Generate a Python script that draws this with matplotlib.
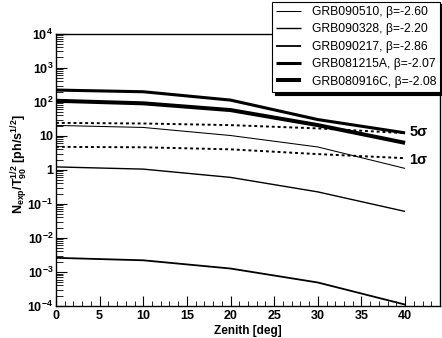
import numpy as np
import matplotlib
matplotlib.use('Agg')
import matplotlib.pyplot as plt
from matplotlib.ticker import FixedLocator, LogLocator, MultipleLocator, FuncFormatter

plt.rcParams['font.family'] = 'Liberation Sans'
plt.rcParams['mathtext.fontset'] = 'custom'
plt.rcParams['mathtext.rm'] = 'Liberation Sans'
plt.rcParams['mathtext.bf'] = 'Liberation Sans:bold'
plt.rcParams['mathtext.it'] = 'Liberation Sans:italic'
plt.rcParams['mathtext.default'] = 'bf'

# zenith angles [deg]
zenith = [0, 10, 20, 30, 40]

# N_exp / T90^(1/2) per burst
grb090510 = [20.2, 17.6, 10.2, 4.7, 1.1]
grb090328 = [1.22, 1.05, 0.6, 0.225, 0.06]
grb090217 = [2.6e-3, 2.2e-3, 1.26e-3, 4.9e-4, 1.1e-4]
grb081215a = [221, 197, 112, 30, 12.2]
grb080916c = [107, 90, 57, 20.6, 6.2]

# detection thresholds
sig5 = [24, 23, 20.6, 16.5, 12.0]
sig1 = [4.74, 4.6, 4.0, 2.9, 2.2]

names = ['GRB090510, \u03b2=-2.60', 'GRB090328, \u03b2=-2.20', 'GRB090217, \u03b2=-2.86',
         'GRB081215A, \u03b2=-2.07', 'GRB080916C, \u03b2=-2.08']
series = [grb090510, grb090328, grb090217, grb081215a, grb080916c]
widths = [0.75, 1.0, 1.3, 2.2, 2.9]

fig = plt.figure(figsize=(4.42, 3.38), dpi=100)
ax = fig.add_axes([0.1267, 0.0947, 0.8688, 0.8056])

for s, n, w in zip(series, names, widths):
    ax.plot(zenith, s, color='k', lw=w, label=n, solid_capstyle='butt')

ax.plot(zenith, sig5, color='k', lw=1.4, ls=(0, (1.5, 1.5)))
ax.plot(zenith, sig1, color='k', lw=1.4, ls=(0, (1.5, 1.5)))
ax.text(40.5, sig5[-1] * 1.05, '5\u03c3', fontsize=10.5, fontweight='bold', va='center', ha='left')
ax.text(40.5, sig1[-1] * 0.88, '1\u03c3', fontsize=10.5, fontweight='bold', va='center', ha='left')

ax.set_yscale('log')
ax.set_xlim(0, 44)
ax.set_ylim(1e-4, 1e4)

ax.set_xticks([0, 5, 10, 15, 20, 25, 30, 35, 40])
ax.xaxis.set_minor_locator(MultipleLocator(1))
ax.yaxis.set_major_locator(FixedLocator([10.0 ** k for k in range(-4, 5)]))
ax.yaxis.set_minor_locator(LogLocator(base=10, subs=np.arange(2, 10), numticks=20))


def yfmt(v, pos):
    k = int(round(np.log10(v)))
    if k == 0:
        return '1'
    if k == 1:
        return '10'
    return r'$10^{%d}$' % k


ax.yaxis.set_major_formatter(FuncFormatter(yfmt))
ax.tick_params(which='both', direction='in', top=False, right=False, labelsize=9)
ax.tick_params(which='major', axis='y', length=8, width=0.8, pad=2)
ax.tick_params(which='minor', axis='y', length=5, width=0.6)
ax.tick_params(which='major', axis='x', length=7, width=0.8, pad=3)
ax.tick_params(which='minor', axis='x', length=3.5, width=0.6)
for lab in ax.get_xticklabels() + ax.get_yticklabels():
    lab.set_fontweight('bold')
for sp in ax.spines.values():
    sp.set_linewidth(1.0)

ax.set_xlabel('Zenith [deg]', fontsize=8.5, fontweight='bold', va='center')
ax.xaxis.set_label_coords(0.5, -0.093)
ax.set_ylabel(r'$N_{exp}/T_{90}^{1/2}$ [ph/s$^{1/2}$]', fontsize=9, fontweight='bold')
ax.yaxis.set_label_coords(-0.068, 0.52)

leg = fig.legend(loc='upper right', bbox_to_anchor=(0.996, 0.995), fontsize=8.7,
                 frameon=True, fancybox=False, shadow={'color': 'k', 'alpha': 1},
                 edgecolor='k', framealpha=1, borderaxespad=0, handlelength=2.0,
                 handletextpad=0.9, labelspacing=0.45, borderpad=0.35)
leg.get_frame().set_linewidth(0.8)

fig.savefig('out.png', dpi=100)
